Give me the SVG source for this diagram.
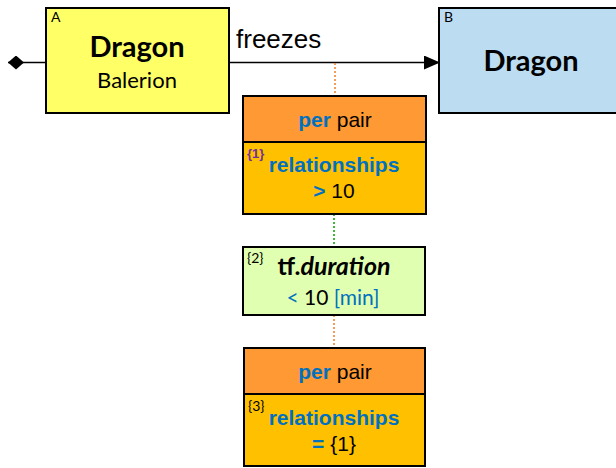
<svg xmlns="http://www.w3.org/2000/svg" width="616" height="468" viewBox="0 0 616 468">
<style>
.box{stroke:#000;stroke-width:2}
.cal{font-family:Lato,"Open Sans","Noto Sans",sans-serif}
.ari{font-family:"Liberation Sans",Arial,sans-serif}
.blue{fill:#0070C0}
.b{font-weight:bold}
.dot{fill:none;stroke-width:1.5;stroke-dasharray:2 2}
</style>
<defs>
<marker id="arr" markerWidth="16" markerHeight="14" refX="15" refY="7" orient="auto" markerUnits="userSpaceOnUse">
<path d="M0,0 L16,7 L0,14 Z" fill="#000"/>
</marker>
<marker id="dia" markerWidth="18" markerHeight="14" refX="17" refY="7" orient="auto" markerUnits="userSpaceOnUse">
<path d="M1,7 L9,0 L17,7 L9,14 Z" fill="#000"/>
</marker>
</defs>
<g id="connectors">
<line x1="46" y1="62.5" x2="8" y2="62.5" stroke="#000" stroke-width="1.5" marker-end="url(#dia)"/>
<line x1="229" y1="62.5" x2="439" y2="62.5" stroke="#000" stroke-width="1.5" marker-end="url(#arr)"/>
<text x="236" y="48" class="ari" font-size="26" fill="#000">freezes</text>
<line x1="335" y1="63" x2="335" y2="96" class="dot" stroke="#F08020"/>
<line x1="334" y1="214" x2="334" y2="247" class="dot" stroke="#00A000"/>
<line x1="334" y1="315" x2="334" y2="348" class="dot" stroke="#F08020"/>
</g>
<g id="nodeA">
<rect x="46" y="8" width="183" height="105" fill="#FFFF66" class="box"/>
<text x="51" y="22" class="cal" font-size="14">A</text>
<text x="137" y="57" class="cal b" font-size="29" text-anchor="middle">Dragon</text>
<text x="137" y="88" class="cal" font-size="22" text-anchor="middle">Balerion</text>
</g>
<g id="nodeB">
<rect x="439" y="8" width="185" height="105" fill="#BBDCF1" class="box"/>
<text x="444" y="22" class="cal" font-size="14">B</text>
<text x="531" y="71" class="cal b" font-size="29" text-anchor="middle">Dragon</text>
</g>
<g id="cond1">
<rect x="243" y="96" width="183" height="46" fill="#FF9933" class="box"/>
<rect x="243" y="142" width="183" height="72" fill="#FFC000" class="box"/>
<text x="335" y="127" class="ari" font-size="21" text-anchor="middle"><tspan class="blue b">per</tspan> pair</text>
<text x="247" y="158" class="ari b" font-size="13" fill="#7030A0">{1}</text>
<text x="334" y="172" class="ari b blue" font-size="21" text-anchor="middle">relationships</text>
<text x="334" y="198" class="ari" font-size="21" text-anchor="middle"><tspan class="blue b">&gt;</tspan> 10</text>
</g>
<g id="cond2">
<rect x="243" y="247" width="182" height="68" fill="#E0FFB0" class="box"/>
<text x="247" y="263" class="cal" font-size="14">{2}</text>
<text x="334" y="275" class="cal b" font-size="25" text-anchor="middle">tf.<tspan font-style="italic">duration</tspan></text>
<text x="333" y="305" class="cal" font-size="21" text-anchor="middle"><tspan class="blue">&lt;</tspan> 10 <tspan class="blue">[min]</tspan></text>
</g>
<g id="cond3">
<rect x="244" y="348" width="181" height="46" fill="#FF9933" class="box"/>
<rect x="244" y="394" width="181" height="72" fill="#FFC000" class="box"/>
<text x="335" y="379" class="ari" font-size="21" text-anchor="middle"><tspan class="blue b">per</tspan> pair</text>
<text x="248" y="411" class="cal" font-size="14">{3}</text>
<text x="334" y="425" class="ari b blue" font-size="21" text-anchor="middle">relationships</text>
<text x="334" y="451" class="ari" font-size="21" text-anchor="middle"><tspan class="blue b">=</tspan> {1}</text>
</g>
</svg>
